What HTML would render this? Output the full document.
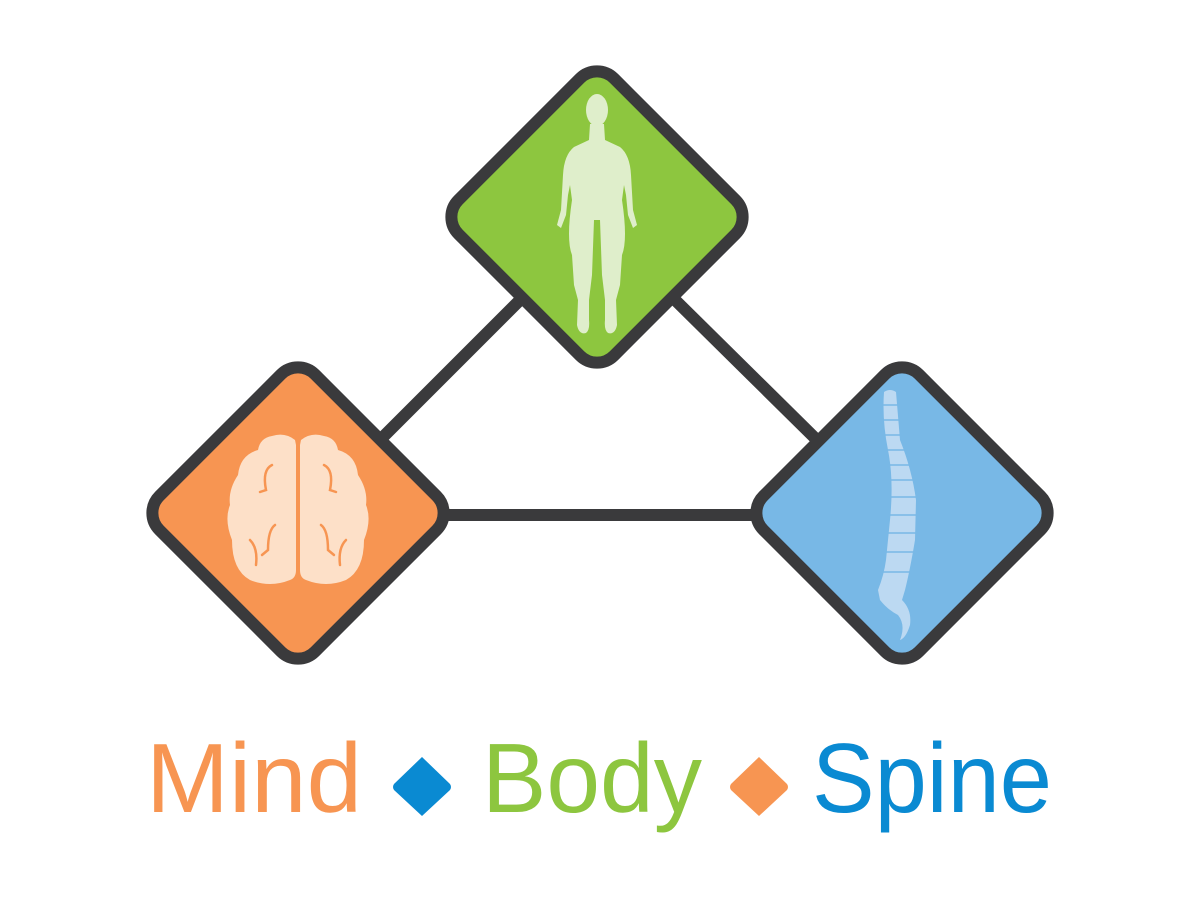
<!DOCTYPE html>
<html><head><meta charset="utf-8"><style>
html,body{margin:0;padding:0;background:#fff;}
svg{display:block;}
</style></head><body>
<svg width="1200" height="900" viewBox="0 0 1200 900" xmlns="http://www.w3.org/2000/svg">
<g stroke="#3a3a3c" stroke-width="12" stroke-linecap="butt">
<line x1="375" y1="445" x2="530" y2="290"/>
<line x1="665" y1="290" x2="822" y2="445"/>
<line x1="440" y1="515" x2="760" y2="515"/>
</g>
<g stroke="#3a3a3c" stroke-width="12">
<rect x="-110" y="-110" width="220" height="220" rx="24" fill="#8dc63f" transform="translate(597,217) rotate(45)"/>
<rect x="-110" y="-110" width="220" height="220" rx="24" fill="#f79552" transform="translate(298,513) rotate(45)"/>
<rect x="-110" y="-110" width="220" height="220" rx="24" fill="#78b8e6" transform="translate(902,513) rotate(45)"/>
</g>
<!-- body -->
<g fill="#dfeecb">
<ellipse cx="597" cy="110" rx="11" ry="16"/>
<path d="M590 124 L604 124 L605 140 L620 147 Q630 155 631 175 L633 210 L637 225 L633 228 L628 215 L626 195 L624 185 L622 200 Q628 240 622 255 L620 285 L616 300 L617 325 Q615 335 608 333 Q604 330 605 320 L605 300 L602 275 L600 220 L594 220 L592 275 L589 300 L589 320 Q590 330 586 333 Q579 335 577 325 L578 300 L574 285 L572 255 Q566 240 572 200 L570 185 L568 195 L566 215 L561 228 L557 225 L561 210 L563 175 Q564 155 574 147 L589 140 Z"/>
</g>
<!-- brain -->
<g fill="#fde0c8">
<path d="M295 440 Q285 432 272 436 Q260 438 258 450 Q240 455 238 475 Q228 490 230 505 Q224 520 232 540 Q232 570 250 580 Q270 588 290 580 Q296 578 296 570 L296 445 Z"/>
<path d="M301 440 Q311 432 324 436 Q336 438 338 450 Q356 455 358 475 Q368 490 366 505 Q372 520 364 540 Q364 570 346 580 Q326 588 306 580 Q300 578 300 570 L300 445 Z"/>
</g>
<g fill="none" stroke="#f79552" stroke-width="2.5" stroke-linecap="round">
<path d="M272 465 Q262 470 266 490 L260 492"/><path d="M324 465 Q334 470 330 490 L336 492"/>
<path d="M275 525 Q268 530 268 550 L262 555"/><path d="M321 525 Q328 530 328 550 L334 555"/>
<path d="M250 540 Q258 548 256 565"/><path d="M346 540 Q338 548 340 565"/>
</g>
<!-- spine -->
<g fill="#bcd9f2">
<path d="M884 392 Q890 388 896 392 L900 440 Q912 470 916 500 L915 540 Q910 570 905 590 L902 600 Q912 610 910 625 Q906 638 900 640 Q906 625 898 615 Q888 610 880 600 L878 590 Q884 575 886 560 L890 520 Q894 480 888 450 Q882 420 884 392 Z"/>
</g>
<g stroke="#78b8e6" stroke-width="1.5">
<line x1="880" y1="405" x2="905" y2="405"/><line x1="880" y1="420" x2="908" y2="420"/>
<line x1="882" y1="435" x2="912" y2="435"/><line x1="884" y1="450" x2="916" y2="450"/>
<line x1="886" y1="465" x2="920" y2="465"/><line x1="888" y1="480" x2="922" y2="480"/>
<line x1="888" y1="497" x2="922" y2="497"/><line x1="886" y1="515" x2="920" y2="515"/>
<line x1="884" y1="533" x2="918" y2="533"/><line x1="880" y1="552" x2="915" y2="552"/>
<line x1="878" y1="572" x2="912" y2="572"/>
</g>
<!-- labels -->
<g font-family="Liberation Sans, sans-serif" font-size="98">
<text x="146" y="812" fill="#f79552" textLength="216" lengthAdjust="spacingAndGlyphs">Mind</text>
<text x="482" y="812" fill="#8dc63f" textLength="220" lengthAdjust="spacingAndGlyphs">Body</text>
<text x="812" y="812" fill="#0a8ad2" textLength="240" lengthAdjust="spacingAndGlyphs">Spine</text>
</g>
<path d="M422 757 L450 784 Q452 787 450 790 L422 816 L394 790 Q392 787 394 784 Z" fill="#0a8ad2"/>
<path d="M759 757 L787 784 Q789 787 787 790 L759 816 L731 790 Q729 787 731 784 Z" fill="#f79552"/>
</svg>
</body></html>
